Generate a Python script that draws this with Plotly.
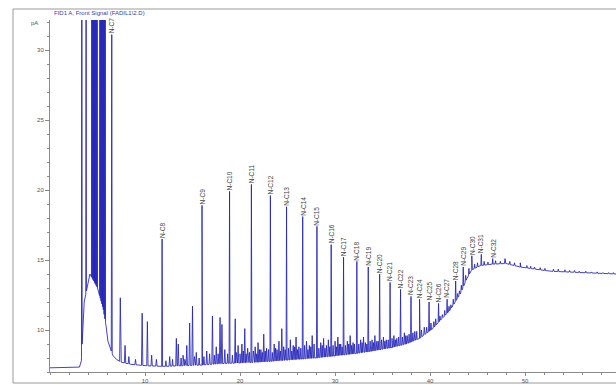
import numpy as np
import plotly.graph_objects as go

# ---- data (time in min, signal in pA) ----
base_t = [0.0, 2.9, 3.1, 3.3, 3.6, 4.2, 5.0, 5.6, 5.9, 6.1, 6.6, 7.0, 7.5, 8.5, 10.0, 12.0, 14.0, 16.0,
          18.0, 20.0, 22.0, 24.0, 26.0, 28.0, 30.0, 32.0, 34.0, 36.0, 37.5, 38.9, 40.3, 41.1,
          42.1, 43.2, 43.9, 44.4, 45.3, 46.5, 48.0, 49.5, 52.6, 56.0, 59.6]
base_v = [7.3, 7.3, 7.35, 7.8, 12.0, 14.0, 13.0, 11.5, 10.3, 9.2, 8.2, 7.9, 7.7, 7.55, 7.45, 7.4, 7.45, 7.5,
          7.6, 7.65, 7.7, 7.8, 7.9, 8.0, 8.15, 8.3, 8.5, 8.75, 9.0, 9.4, 10.1, 10.7,
          11.4, 12.6, 13.7, 14.3, 14.6, 14.7, 14.75, 14.5, 14.2, 14.1, 14.0]

solvent_t = [3.35, 3.80, 4.40, 4.48, 4.56, 4.64, 4.72, 4.80, 4.88, 4.96,
             5.25, 5.33, 5.41, 5.49, 5.57, 5.65, 5.73, 5.81]
solvent_v = [60, 60, 60, 60, 60, 60, 60, 60, 60, 60,
             60, 60, 60, 60, 60, 60, 60, 60]

alkane_names = ["N-C7", "N-C8", "N-C9", "N-C10", "N-C11", "N-C12", "N-C13", "N-C14", "N-C15",
                "N-C16", "N-C17", "N-C18", "N-C19", "N-C20", "N-C21", "N-C22", "N-C23", "N-C24",
                "N-C25", "N-C26", "N-C27", "N-C28", "N-C29", "N-C30", "N-C31", "N-C32"]
alkane_t = [6.5, 11.8, 16.0, 18.9, 21.2, 23.2, 24.9, 26.6, 28.1,
            29.6, 30.9, 32.3, 33.5, 34.7, 35.8, 36.9, 38.0, 38.9,
            39.9, 40.9, 41.8, 42.7, 43.5, 44.4, 45.4, 46.6]
alkane_v = [31.1, 16.5, 18.9, 19.9, 20.4, 19.6, 18.8, 18.1, 17.4,
            16.1, 15.2, 14.9, 14.5, 14.0, 13.4, 12.9, 12.4, 12.2,
            12.0, 11.9, 12.2, 13.5, 14.5, 15.3, 15.4, 15.1]

minor_t = [7.4, 7.9, 8.3, 9.0, 9.7, 10.25, 10.7, 11.2,
           12.6, 13.3, 13.5, 14.0, 14.4, 14.7, 15.0, 15.4,
           16.5, 16.8, 17.1, 17.5, 17.9, 18.1, 18.4,
           19.5, 19.8, 20.2, 20.5, 20.8,
           21.6, 21.9, 22.2, 22.5, 22.8,
           23.6, 23.9, 24.1, 24.4, 24.6,
           25.3, 25.6, 25.9, 26.2,
           27.0, 27.3, 27.6, 27.8,
           28.5, 28.8, 29.1, 29.3,
           30.0, 30.3, 30.6,
           31.3, 31.6, 31.9,
           32.7, 33.0, 33.2,
           33.9, 34.2, 34.4,
           35.1, 35.4, 36.2, 36.5, 37.3, 37.6, 38.4, 39.4, 40.4, 41.3, 42.2, 43.1,
           47.9, 49.5, 51.0, 53.5, 55.2]
minor_v = [12.3, 8.9, 8.1, 7.9, 11.2, 10.6, 8.2, 7.9,
           8.1, 9.4, 9.0, 8.2, 8.9, 10.5, 11.7, 8.4,
           8.5, 8.3, 11.0, 8.8, 10.9, 10.4, 8.6,
           10.8, 8.9, 9.0, 10.1, 8.7,
           8.8, 9.1, 8.6, 9.7, 8.7,
           9.0, 8.6, 9.2, 10.1, 8.8,
           9.3, 8.9, 9.5, 8.8,
           9.2, 8.9, 9.6, 9.0,
           9.1, 9.4, 8.9, 9.3,
           9.2, 9.5, 9.0,
           9.2, 9.6, 9.1,
           9.3, 9.5, 9.1,
           9.3, 9.6, 9.2,
           9.5, 9.3, 9.6, 9.4, 9.8, 9.6, 9.9, 10.2, 10.6, 11.1, 11.8, 12.8,
           15.1, 14.8, 14.5, 14.35, 14.25]

tiny_t = [12.2, 12.9, 13.8, 14.2, 15.2, 15.7, 16.2, 17.3, 17.7, 18.7, 19.2, 19.6, 20.0, 20.35,
          20.65, 21.0, 21.4, 21.75, 22.05, 22.35, 22.65, 23.0, 23.4, 23.75, 24.25, 24.75, 25.1,
          25.45, 25.75, 26.05, 26.4, 26.8, 27.15, 27.45, 28.3, 28.65, 28.95, 29.45, 29.8, 30.15,
          30.45, 30.75, 31.1, 31.45, 31.75, 32.05, 32.5, 32.85, 33.35, 33.7, 34.05, 34.55, 34.9,
          35.25, 35.6, 36.0, 36.35, 36.7, 37.1, 37.45, 37.8, 38.2, 38.6, 39.1, 39.65, 40.1, 40.6,
          41.05, 41.55, 42.0, 42.45, 42.9, 43.3, 43.75, 44.1, 44.7, 45.0, 45.7, 46.1, 46.9, 47.4,
          48.4, 48.9, 50.2, 50.6, 51.6, 52.1, 53.0, 54.2, 54.7, 55.7, 56.4, 57.0, 57.6, 58.2,
          58.8, 59.3]
tiny_v = [7.8, 7.9, 8.0, 7.9, 8.1, 8.0, 8.1, 8.2, 8.3, 8.3, 8.2, 8.4, 8.3, 8.5,
          8.3, 8.4, 8.5, 8.3, 8.6, 8.4, 8.5, 8.6, 8.4, 8.7, 8.5, 8.6, 8.7,
          8.5, 8.8, 8.6, 8.7, 8.9, 8.6, 8.8, 8.7, 8.9, 8.7, 8.8, 8.9, 8.8,
          9.0, 8.8, 8.9, 9.0, 8.9, 9.0, 9.0, 9.1, 9.0, 9.2, 9.1, 9.2, 9.3,
          9.2, 9.3, 9.4, 9.3, 9.5, 9.5, 9.6, 9.7, 9.8, 9.9, 10.0, 10.2, 10.5, 10.8,
          11.0, 11.4, 11.7, 12.2, 12.6, 13.2, 13.9, 14.4, 14.7, 14.8, 14.9, 14.85, 14.95, 14.9,
          14.9, 14.8, 14.6, 14.55, 14.45, 14.4, 14.35, 14.3, 14.25, 14.2, 14.2, 14.15, 14.15, 14.1,
          14.1, 14.1]

y_ticks = [10, 15, 20, 25, 30]
x_ticks = [10, 20, 30, 40, 50]


def spikes(ts, vs, w):
    pts = []
    for t, v in zip(ts, vs):
        pts.append((t - w, float(np.interp(t - w, base_t, base_v))))
        pts.append((t, v))
        pts.append((t + w, float(np.interp(t + w, base_t, base_v))))
    return pts


pts = list(zip(base_t, base_v))
pts += spikes(solvent_t, solvent_v, 0.035)
pts += spikes(alkane_t, alkane_v, 0.05)
pts += spikes(minor_t, minor_v, 0.07)
pts += spikes(tiny_t, tiny_v, 0.06)
pts.sort(key=lambda p: p[0])
xs = [p[0] for p in pts]
ys = [p[1] for p in pts]

W, H = 616, 385
ML, MR, MT, MB = 50, 0, 20, 13
X0, X1 = 0.0, (W - ML - MR) / 9.5
Y0 = 7.0
Y1 = Y0 + (H - MT - MB) / 14.0

fig = go.Figure()
fig.add_trace(go.Scatter(x=xs, y=ys, mode="lines",
                         line=dict(color="rgba(35,35,185,0.85)", width=1), hoverinfo="skip"))

for name, t, v in zip(alkane_names, alkane_t, alkane_v):
    fig.add_annotation(x=t, y=min(v, Y1), text=name, textangle=-90, showarrow=False,
                       xanchor="center", yanchor="bottom", borderpad=0, yshift=0,
                       font=dict(family="Liberation Sans, Arial", size=6.5, color="#444"))

pw = W - ML - MR
ph = H - MT - MB
fig.add_annotation(xref="paper", yref="paper", x=(52 - ML) / pw, y=(H - MB - 13) / ph,
                   text="FID1 A, Front Signal (FADIL1\\2.D)", showarrow=False,
                   xanchor="left", yanchor="middle",
                   font=dict(family="Liberation Sans, Arial", size=6, color="#3a3ab8"))
fig.add_annotation(xref="paper", yref="paper", x=(40 - ML) / pw, y=(H - MB - 23) / ph,
                   text="pA", showarrow=False, xanchor="right", yanchor="middle",
                   font=dict(family="Liberation Sans, Arial", size=6, color="#555"))

fig.add_shape(type="rect", xref="paper", yref="paper",
              x0=(13 - ML) / pw, x1=1.1, y0=(H - MB - 383) / ph, y1=(H - MB - 9) / ph,
              line=dict(color="#9a9a9a", width=1), fillcolor="rgba(0,0,0,0)", layer="below")

fig.update_layout(
    width=W, height=H, margin=dict(l=ML, r=MR, t=MT, b=MB),
    paper_bgcolor="white", plot_bgcolor="white", showlegend=False,
    xaxis=dict(range=[X0, X1], tickvals=x_ticks, ticktext=[str(v) for v in x_ticks],
               showgrid=False, zeroline=False, showline=True, linecolor="#8a8a8a", linewidth=1,
               ticks="outside", ticklen=3, tickcolor="#8a8a8a",
               minor=dict(dtick=2, ticks="outside", ticklen=2, tickcolor="#8a8a8a"),
               tickfont=dict(family="Liberation Sans, Arial", size=6, color="#555")),
    yaxis=dict(range=[Y0, Y1], tickvals=y_ticks, ticktext=[str(v) for v in y_ticks],
               showgrid=False, zeroline=False, showline=True, linecolor="#8a8a8a", linewidth=1,
               ticks="outside", ticklen=4, tickcolor="#8a8a8a",
               minor=dict(dtick=1, ticks="outside", ticklen=2, tickcolor="#8a8a8a"),
               tickfont=dict(family="Liberation Sans, Arial", size=6, color="#555")),
)

fig.write_html("out.html")
